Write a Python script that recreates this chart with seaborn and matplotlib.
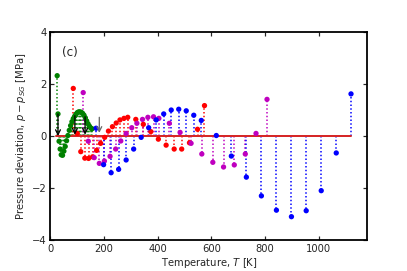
import numpy as np
import pandas as pd
import matplotlib
matplotlib.use("Agg")
import matplotlib.pyplot as plt
import seaborn as sns

# temperatures [K] and pressure deviations [MPa]
green_T = [25, 28, 32, 36, 40, 45, 50, 55, 60, 65, 70, 75, 80, 85, 90, 95,
           100, 105, 110, 115, 120, 125, 130, 135, 140, 145, 150, 155]
green_dp = [2.32, 0.85, -0.2, -0.5, -0.72, -0.74, -0.58, -0.4, -0.18, 0.02,
            0.22, 0.4, 0.55, 0.67, 0.76, 0.84, 0.9, 0.93, 0.93, 0.91, 0.87,
            0.8, 0.7, 0.58, 0.47, 0.38, 0.31, 0.28]

red_T = [85, 100, 113, 128, 142, 157, 172, 187, 202, 216, 231, 245, 259, 274,
         288, 318, 346, 374, 402, 431, 461, 489, 518, 548, 574]
red_dp = [1.83, 0.1, -0.6, -0.85, -0.86, -0.8, -0.55, -0.28, -0.05, 0.19,
          0.36, 0.5, 0.62, 0.68, 0.72, 0.64, 0.45, 0.17, -0.12, -0.35, -0.5,
          -0.5, -0.26, 0.26, 1.17]

magenta_T = [122, 141, 163, 182, 201, 222, 243, 262, 282, 303, 322, 343, 363,
             384, 404, 443, 483, 524, 564, 605, 645, 685, 726, 766, 807]
magenta_dp = [1.67, -0.2, -0.83, -1.05, -0.96, -0.78, -0.5, -0.19, 0.1, 0.32,
              0.49, 0.64, 0.72, 0.74, 0.68, 0.49, 0.14, -0.28, -0.69, -1.01,
              -1.19, -1.11, -0.69, 0.1, 1.41]

blue_T = [170, 198, 226, 254, 282, 310, 338, 366, 394, 422, 450, 478, 506, 534,
          562, 618, 674, 730, 786, 842, 898, 953, 1009, 1065, 1120]
blue_dp = [0.3, -1.1, -1.41, -1.28, -0.92, -0.5, -0.05, 0.32, 0.62, 0.85, 1.0,
           1.03, 0.97, 0.8, 0.6, 0.02, -0.77, -1.58, -2.3, -2.85, -3.1, -2.87,
           -2.1, -0.65, 1.62]

# arrows: (T, start, end)
arrow_T = [28, 91, 129, 182]
arrow_top = [0.85, 0.78, 0.74, 0.72]
arrow_bot = [0.0, 0.05, 0.05, 0.12]
arrow_col = ["black", "black", "black", "dimgray"]

series = {"g": (green_T, green_dp), "r": (red_T, red_dp),
          "m": (magenta_T, magenta_dp), "b": (blue_T, blue_dp)}
df = pd.concat([pd.DataFrame({"T": t, "dp": d, "set": k})
                for k, (t, d) in series.items()], ignore_index=True)

sns.set_style("ticks")
plt.rcParams["font.family"] = ["DejaVu Sans"]
plt.rcParams["font.size"] = 10

fig = plt.figure(figsize=(407 / 72, 271 / 72), dpi=72)
ax = fig.add_axes([0.124, 0.114, 0.778, 0.768])

for k, (t, d) in series.items():
    ax.vlines(t, 0, d, colors=k, linestyles=(0, (1, 1.5)), linewidth=1.5, zorder=2)

ax.plot([min(green_T) - 3, max(blue_T)], [0, 0], color="#d62728", lw=2, zorder=3)

sns.scatterplot(data=df, x="T", y="dp", hue="set",
                palette={"g": "g", "r": "r", "m": "m", "b": "b"},
                s=28, linewidth=0, legend=False, zorder=4, ax=ax)

for t, y0, y1, c in zip(arrow_T, arrow_top, arrow_bot, arrow_col):
    ax.annotate("", xy=(t, y1), xytext=(t, y0), zorder=6,
                arrowprops=dict(arrowstyle="->", color=c, lw=1.3,
                                mutation_scale=12, shrinkA=0, shrinkB=0))

ax.text(73, 3.2, "(c)", fontsize=12, ha="center", va="center")

ax.set_xlim(0, 1180)
ax.set_ylim(-4, 4)
ax.set_xticks([0, 200, 400, 600, 800, 1000])
ax.set_yticks([-4, -2, 0, 2, 4])
ax.tick_params(direction="in", top=True, right=True, length=4, width=1.2,
               labelsize=10)
for s in ax.spines.values():
    s.set_linewidth(1.8)
    s.set_color("black")
ax.set_xlabel("Temperature, $T$ [K]", fontsize=10, labelpad=2)
ax.set_ylabel("Pressure deviation, $p - p_{SG}$ [MPa]", fontsize=10)

fig.savefig("out.png", dpi=72)
